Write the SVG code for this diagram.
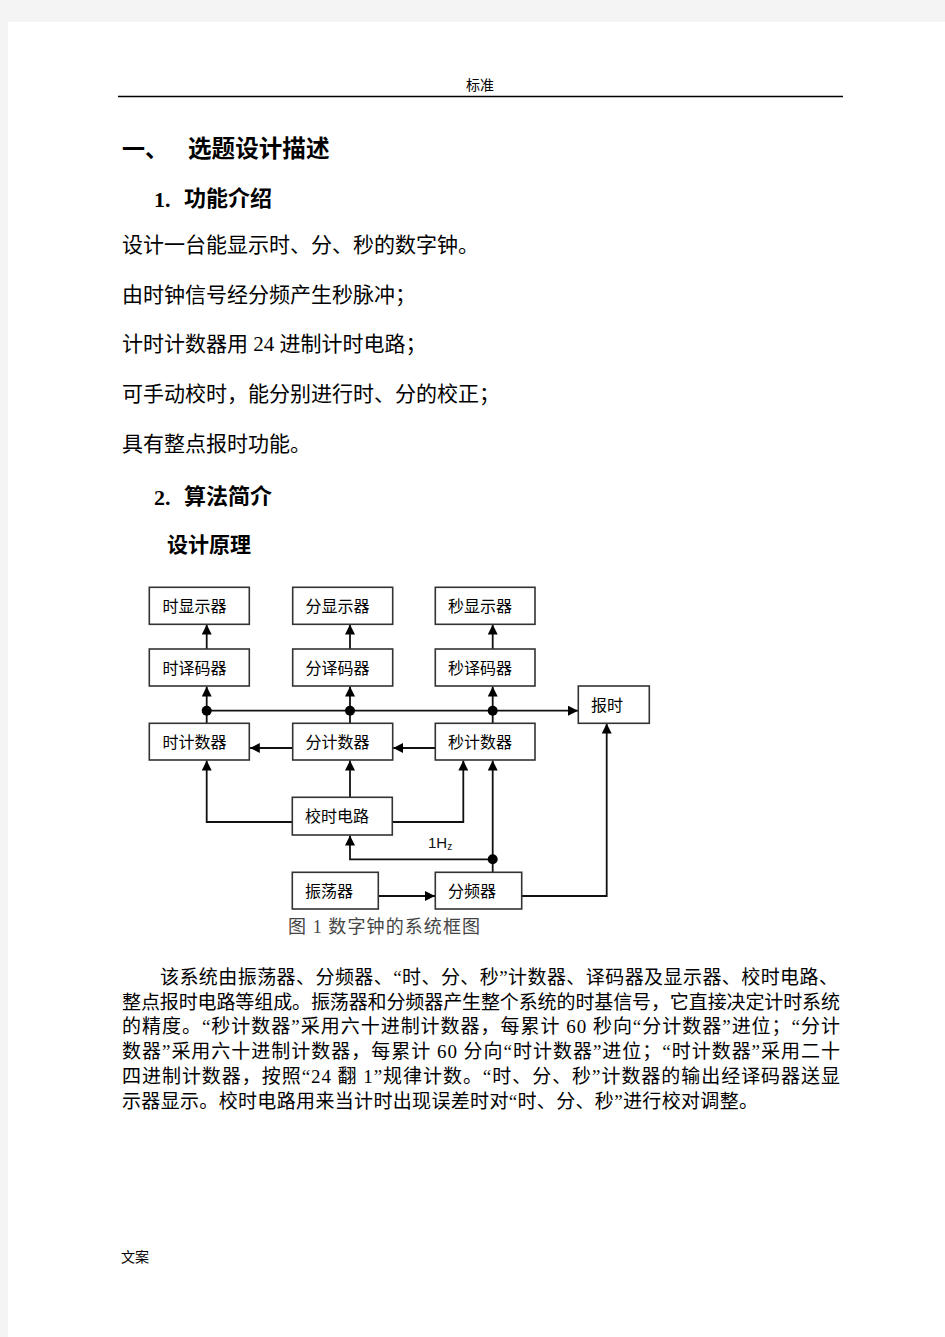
<svg xmlns="http://www.w3.org/2000/svg" width="945" height="1337" viewBox="0 0 945 1337">
<style>
.t{font-family:"Liberation Serif","Noto Sans CJK SC",serif;fill:#000}
.h{font-family:"Liberation Serif","Noto Sans CJK SC",serif;font-weight:bold;fill:#000}
.bx{fill:#fff;stroke:#333;stroke-width:1.6}
.lb{font-family:"Noto Sans CJK SC","Noto Sans",sans-serif;font-size:16px;fill:#000}
.ln{fill:none;stroke:#111;stroke-width:1.8}
</style>
<defs>
<marker id="ah" viewBox="0 0 10 10" refX="10" refY="5" markerWidth="10" markerHeight="10" markerUnits="userSpaceOnUse" orient="auto">
<path d="M0,0 L10,5 L0,10 z" fill="#000"/>
</marker>
</defs>
<rect x="0" y="0" width="945" height="1337" fill="#f4f4f4"/>
<rect x="8" y="22" width="937" height="1315" fill="#fff"/>
<text class="t" x="480" y="90" font-size="14" text-anchor="middle">标准</text>
<line x1="118" y1="96.5" x2="843" y2="96.5" stroke="#000" stroke-width="1.3"/>
<text class="h" x="122" y="157" font-size="23">一、</text>
<text class="h" x="188" y="157" font-size="23.6">选题设计描述</text>
<text class="h" x="154" y="207" font-size="22">1.</text>
<text class="h" x="184" y="206" font-size="22">功能介绍</text>
<text class="t" x="122" y="252" font-size="21">设计一台能显示时、分、秒的数字钟。</text>
<text class="t" x="122" y="302" font-size="21">由时钟信号经分频产生秒脉冲；</text>
<text class="t" x="122" y="351" font-size="21">计时计数器用 24 进制计时电路；</text>
<text class="t" x="122" y="401" font-size="21">可手动校时，能分别进行时、分的校正；</text>
<text class="t" x="122" y="451" font-size="21">具有整点报时功能。</text>
<text class="h" x="154" y="505" font-size="22">2.</text>
<text class="h" x="184" y="504" font-size="22">算法简介</text>
<text class="h" x="167" y="552" font-size="21">设计原理</text>
<g id="connectors">
<line class="ln" x1="206.7" y1="649" x2="206.7" y2="624.5" marker-end="url(#ah)"/>
<line class="ln" x1="350" y1="649" x2="350" y2="624.5" marker-end="url(#ah)"/>
<line class="ln" x1="492.7" y1="649" x2="492.7" y2="624.5" marker-end="url(#ah)"/>
<line class="ln" x1="206.7" y1="723" x2="206.7" y2="686.5" marker-end="url(#ah)"/>
<line class="ln" x1="350" y1="723" x2="350" y2="686.5" marker-end="url(#ah)"/>
<line class="ln" x1="492.7" y1="723" x2="492.7" y2="686.5" marker-end="url(#ah)"/>
<line class="ln" x1="206.7" y1="710.7" x2="578" y2="710.7" marker-end="url(#ah)"/>
<circle cx="206.7" cy="710.7" r="5" fill="#000"/>
<circle cx="350" cy="710.7" r="5" fill="#000"/>
<circle cx="492.7" cy="710.7" r="5" fill="#000"/>
<line class="ln" x1="292.7" y1="748" x2="249.8" y2="748" marker-end="url(#ah)"/>
<line class="ln" x1="435.3" y1="748" x2="393.2" y2="748" marker-end="url(#ah)"/>
<line class="ln" x1="350" y1="797" x2="350" y2="760.5" marker-end="url(#ah)"/>
<polyline class="ln" points="292,822 206.7,822 206.7,760.5" marker-end="url(#ah)"/>
<polyline class="ln" points="392.5,822 463.3,822 463.3,760.5" marker-end="url(#ah)"/>
<line class="ln" x1="492.7" y1="872" x2="492.7" y2="760.5" marker-end="url(#ah)"/>
<polyline class="ln" points="492.7,859.3 350,859.3 350,835.5" marker-end="url(#ah)"/>
<circle cx="492.7" cy="859.3" r="5" fill="#000"/>
<line class="ln" x1="378.5" y1="896" x2="435" y2="896" marker-end="url(#ah)"/>
<polyline class="ln" points="522,896 606.7,896 606.7,723.5" marker-end="url(#ah)"/>
<text x="428" y="848" font-family="Liberation Sans, Arial, sans-serif" font-size="15" fill="#111">1H<tspan font-size="10" dy="2">z</tspan></text>
</g>
<g id="n_hdisp"><rect class="bx" x="149.3" y="587.3" width="100" height="37"/><text class="lb" x="162.5" y="612">时显示器</text></g>
<g id="n_mdisp"><rect class="bx" x="292.7" y="587.3" width="100" height="37"/><text class="lb" x="305.5" y="612">分显示器</text></g>
<g id="n_sdisp"><rect class="bx" x="435.3" y="587.3" width="99.7" height="37"/><text class="lb" x="448" y="612">秒显示器</text></g>
<g id="n_hdec"><rect class="bx" x="149.3" y="649" width="100" height="37"/><text class="lb" x="162.5" y="674">时译码器</text></g>
<g id="n_mdec"><rect class="bx" x="292.7" y="649" width="100" height="37"/><text class="lb" x="305.5" y="674">分译码器</text></g>
<g id="n_sdec"><rect class="bx" x="435.3" y="649" width="99.7" height="37"/><text class="lb" x="448" y="674">秒译码器</text></g>
<g id="n_alarm"><rect class="bx" x="578.3" y="686" width="71" height="37.3"/><text class="lb" x="591" y="711">报时</text></g>
<g id="n_hcnt"><rect class="bx" x="149.3" y="723.3" width="100" height="36.7"/><text class="lb" x="162.5" y="748">时计数器</text></g>
<g id="n_mcnt"><rect class="bx" x="292.7" y="723.3" width="100" height="36.7"/><text class="lb" x="305.5" y="748">分计数器</text></g>
<g id="n_scnt"><rect class="bx" x="435.3" y="723.3" width="99.7" height="36.7"/><text class="lb" x="448" y="748">秒计数器</text></g>
<g id="n_adj"><rect class="bx" x="292.3" y="797.3" width="100" height="37.7"/><text class="lb" x="305" y="822">校时电路</text></g>
<g id="n_osc"><rect class="bx" x="292.3" y="872.3" width="86" height="36.7"/><text class="lb" x="305" y="897">振荡器</text></g>
<g id="n_div"><rect class="bx" x="435.3" y="872.3" width="86.4" height="36.7"/><text class="lb" x="448" y="897">分频器</text></g>
<text class="t" x="288" y="933" font-size="18" fill="#444" style="fill:#444" textLength="192">图 1 数字钟的系统框图</text>
<text class="t" x="160" y="984" font-size="19" textLength="678">该系统由振荡器、分频器、“时、分、秒”计数器、译码器及显示器、校时电路、</text>
<text class="t" x="122" y="1009" font-size="19" textLength="718">整点报时电路等组成。振荡器和分频器产生整个系统的时基信号，它直接决定计时系统</text>
<text class="t" x="122" y="1033" font-size="19" textLength="718">的精度。“秒计数器”采用六十进制计数器，每累计 60 秒向“分计数器”进位；“分计</text>
<text class="t" x="122" y="1058" font-size="19" textLength="718">数器”采用六十进制计数器，每累计 60 分向“时计数器”进位；“时计数器”采用二十</text>
<text class="t" x="122" y="1083" font-size="19" textLength="718">四进制计数器，按照“24 翻 1”规律计数。“时、分、秒”计数器的输出经译码器送显</text>
<text class="t" x="122" y="1108" font-size="19" textLength="636">示器显示。校时电路用来当计时出现误差时对“时、分、秒”进行校对调整。</text>
<text class="t" x="121" y="1262" font-size="14">文案</text>
</svg>
